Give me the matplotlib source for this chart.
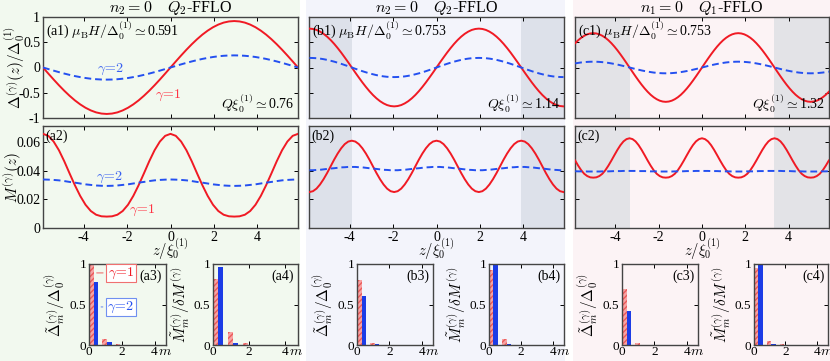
import numpy as np
import matplotlib
matplotlib.use("Agg")
import matplotlib.pyplot as plt
from matplotlib.patches import Rectangle
from matplotlib import transforms

plt.rcParams['font.family'] = ['Liberation Serif', 'DejaVu Serif']
plt.rcParams['mathtext.fontset'] = 'cm'
plt.rcParams['axes.unicode_minus'] = False
plt.rcParams['font.size'] = 10

# ---- data ----
# column (a): n2=0, Q2-FFLO, muB H = 0.591
z_a = np.linspace(-5.87, 5.87, 49)
delta_a_red = [0, -.120, -.238, -.352, -.460, -.560, -.651, -.730, -.797, -.850, -.889, -.912, -.920,
               -.912, -.889, -.850, -.797, -.730, -.651, -.560, -.460, -.352, -.238, -.120, 0,
               .120, .238, .352, .460, .560, .651, .730, .797, .850, .889, .912, .920,
               .912, .889, .850, .797, .730, .651, .560, .460, .352, .238, .120, 0]
delta_a_blue = [0, -.031, -.062, -.092, -.120, -.146, -.170, -.190, -.208, -.222, -.232, -.238, -.240,
                -.238, -.232, -.222, -.208, -.190, -.170, -.146, -.120, -.092, -.062, -.031, 0,
                .031, .062, .092, .120, .146, .170, .190, .208, .222, .232, .238, .240,
                .238, .232, .222, .208, .190, .170, .146, .120, .092, .062, .031, 0]
m_a_red = [.0660, .0646, .0606, .0545, .0468, .0383, .0300, .0225, .0163, .0119, .0093, .0082, .0080,
           .0082, .0093, .0119, .0163, .0225, .0300, .0383, .0468, .0545, .0606, .0646, .0660,
           .0646, .0606, .0545, .0468, .0383, .0300, .0225, .0163, .0119, .0093, .0082, .0080,
           .0082, .0093, .0119, .0163, .0225, .0300, .0383, .0468, .0545, .0606, .0646, .0660]
m_a_blue = [.0340, .0339, .0337, .0334, .0329, .0323, .0318, .0312, .0306, .0302, .0298, .0296, .0295,
            .0296, .0298, .0302, .0306, .0312, .0318, .0323, .0329, .0334, .0337, .0339, .0340,
            .0339, .0337, .0334, .0329, .0323, .0318, .0312, .0306, .0302, .0298, .0296, .0295,
            .0296, .0298, .0302, .0306, .0312, .0318, .0323, .0329, .0334, .0337, .0339, .0340]

# column (b): n2=0, Q2-FFLO, muB H = 0.753
z_b = np.linspace(-5.85, 5.85, 73)
delta_b_red = [.770, .763, .744, .711, .667, .611, .545, .469, .385, .295, .199, .101, 0,
               -.101, -.199, -.295, -.385, -.469, -.545, -.611, -.667, -.711, -.744, -.763, -.770,
               -.763, -.744, -.711, -.667, -.611, -.545, -.469, -.385, -.295, -.199, -.101, 0,
               .101, .199, .295, .385, .469, .545, .611, .667, .711, .744, .763, .770,
               .763, .744, .711, .667, .611, .545, .469, .385, .295, .199, .101, 0,
               -.101, -.199, -.295, -.385, -.469, -.545, -.611, -.667, -.711, -.744, -.763, -.770]
delta_b_blue = [.190, .188, .184, .176, .165, .151, .134, .116, .095, .073, .049, .025, 0,
                -.025, -.049, -.073, -.095, -.116, -.134, -.151, -.165, -.176, -.184, -.188, -.190,
                -.188, -.184, -.176, -.165, -.151, -.134, -.116, -.095, -.073, -.049, -.025, 0,
                .025, .049, .073, .095, .116, .134, .151, .165, .176, .184, .188, .190,
                .188, .184, .176, .165, .151, .134, .116, .095, .073, .049, .025, 0,
                -.025, -.049, -.073, -.095, -.116, -.134, -.151, -.165, -.176, -.184, -.188, -.190]
m_b_red = [.0252, .0258, .0276, .0305, .0342, .0385, .0432, .0479, .0522, .0559, .0588, .0606, .0612,
           .0606, .0588, .0559, .0522, .0479, .0432, .0385, .0342, .0305, .0276, .0258, .0252,
           .0258, .0276, .0305, .0342, .0385, .0432, .0479, .0522, .0559, .0588, .0606, .0612,
           .0606, .0588, .0559, .0522, .0479, .0432, .0385, .0342, .0305, .0276, .0258, .0252,
           .0258, .0276, .0305, .0342, .0385, .0432, .0479, .0522, .0559, .0588, .0606, .0612,
           .0606, .0588, .0559, .0522, .0479, .0432, .0385, .0342, .0305, .0276, .0258, .0252]
m_b_blue = [.0405, .0405, .0407, .0408, .0411, .0414, .0417, .0419, .0422, .0425, .0426, .0428, .0428,
            .0428, .0426, .0425, .0422, .0419, .0417, .0414, .0411, .0408, .0407, .0405, .0405,
            .0405, .0407, .0408, .0411, .0414, .0417, .0419, .0422, .0425, .0426, .0428, .0428,
            .0428, .0426, .0425, .0422, .0419, .0417, .0414, .0411, .0408, .0407, .0405, .0405,
            .0405, .0407, .0408, .0411, .0414, .0417, .0419, .0422, .0425, .0426, .0428, .0428,
            .0428, .0426, .0425, .0422, .0419, .0417, .0414, .0411, .0408, .0407, .0405, .0405]

# column (c): n1=0, Q1-FFLO, muB H = 0.753
z_c = np.linspace(-5.8625, 5.8625, 85)
delta_c_red = [.481, .540, .589, .628, .657, .674, .680,
               .674, .657, .628, .589, .540, .481, .414, .340, .260, .176, .089, 0,
               -.089, -.176, -.260, -.340, -.414, -.481, -.540, -.589, -.628, -.657, -.674, -.680,
               -.674, -.657, -.628, -.589, -.540, -.481, -.414, -.340, -.260, -.176, -.089, 0,
               .089, .176, .260, .340, .414, .481, .540, .589, .628, .657, .674, .680,
               .674, .657, .628, .589, .540, .481, .414, .340, .260, .176, .089, 0,
               -.089, -.176, -.260, -.340, -.414, -.481, -.540, -.589, -.628, -.657, -.674, -.680,
               -.674, -.657, -.628, -.589, -.540, -.481]
delta_c_blue = [.081, .091, .100, .106, .111, .114, .115,
                .114, .111, .106, .100, .091, .081, .070, .058, .044, .030, .015, 0,
                -.015, -.030, -.044, -.058, -.070, -.081, -.091, -.100, -.106, -.111, -.114, -.115,
                -.114, -.111, -.106, -.100, -.091, -.081, -.070, -.058, -.044, -.030, -.015, 0,
                .015, .030, .044, .058, .070, .081, .091, .100, .106, .111, .114, .115,
                .114, .111, .106, .100, .091, .081, .070, .058, .044, .030, .015, 0,
                -.015, -.030, -.044, -.058, -.070, -.081, -.091, -.100, -.106, -.111, -.114, -.115,
                -.114, -.111, -.106, -.100, -.091, -.081]
m_c_red = [.0473, .0437, .0405, .0380, .0364, .0355, .0353,
           .0355, .0364, .0380, .0405, .0437, .0473, .0511, .0548, .0581, .0607, .0623, .0629,
           .0623, .0607, .0581, .0548, .0511, .0473, .0437, .0405, .0380, .0364, .0355, .0353,
           .0355, .0364, .0380, .0405, .0437, .0473, .0511, .0548, .0581, .0607, .0623, .0629,
           .0623, .0607, .0581, .0548, .0511, .0473, .0437, .0405, .0380, .0364, .0355, .0353,
           .0355, .0364, .0380, .0405, .0437, .0473, .0511, .0548, .0581, .0607, .0623, .0629,
           .0623, .0607, .0581, .0548, .0511, .0473, .0437, .0405, .0380, .0364, .0355, .0353,
           .0355, .0364, .0380, .0405, .0437, .0473]
m_c_blue = [.0398, .0397, .0397, .0397, .0396, .0396, .0396,
            .0396, .0396, .0397, .0397, .0397, .0398, .0399, .0399, .0399, .0400, .0400, .0400,
            .0400, .0400, .0399, .0399, .0399, .0398, .0397, .0397, .0397, .0396, .0396, .0396,
            .0396, .0396, .0397, .0397, .0397, .0398, .0399, .0399, .0399, .0400, .0400, .0400,
            .0400, .0400, .0399, .0399, .0399, .0398, .0397, .0397, .0397, .0396, .0396, .0396,
            .0396, .0396, .0397, .0397, .0397, .0398, .0399, .0399, .0399, .0400, .0400, .0400,
            .0400, .0400, .0399, .0399, .0399, .0398, .0397, .0397, .0397, .0396, .0396, .0396,
            .0396, .0396, .0397, .0397, .0397, .0398]

# Fourier components m = 0..4
m_idx = np.arange(5)
a3_red = [1.00, 0.08, 0.012, 0.003, 0]
a3_blue = [0.78, 0.035, 0.005, 0, 0]
a4_red = [0.82, 0.16, 0.02, 0.006, 0]
a4_blue = [0.96, 0.03, 0.006, 0, 0]
b3_red = [0.80, 0.03, 0.003, 0, 0]
b3_blue = [0.61, 0.01, 0, 0, 0]
b4_red = [0.93, 0.07, 0.005, 0, 0]
b4_blue = [0.99, 0.012, 0.002, 0, 0]
c3_red = [0.69, 0.02, 0, 0, 0]
c3_blue = [0.42, 0.005, 0, 0, 0]
c4_red = [0.95, 0.05, 0.008, 0, 0]
c4_blue = [1.00, 0.01, 0, 0, 0]

RED = '#f01a24'
BLUE = '#2450f0'
W, H = 830, 361
fig = plt.figure(figsize=(8.3, 3.61), dpi=100)


def rect(x0, y0, x1, y1):
    return [x0 / W, 1 - y1 / H, (x1 - x0) / W, (y1 - y0) / H]


def style(ax):
    ax.set_facecolor('none')
    ax.tick_params(direction='in', top=True, right=True, length=3, width=0.7,
                   labelsize=10, pad=2)
    for s in ax.spines.values():
        s.set_color('#444444')
        s.set_linewidth(1.0)


# column backgrounds
for x0, x1, c in [(0, 300, '#f2f9ef'), (306, 565, '#f3f4fb'), (573, 830, '#fcf3f5')]:
    fig.add_artist(Rectangle((x0 / W, 0), (x1 - x0) / W, 1, transform=fig.transFigure,
                             color=c, zorder=-10, lw=0))

cols = [
    dict(tag='a', x0=43, x1=298, z=z_a, d=(delta_a_red, delta_a_blue), m=(m_a_red, m_a_blue),
         title=r'$n_2=0$    $Q_2$-FFLO', h='0.591', q='0.76', shade=None, sc=None,
         bars=[(89, 166, a3_red, a3_blue), (213, 298, a4_red, a4_blue)]),
    dict(tag='b', x0=309, x1=564, z=z_b, d=(delta_b_red, delta_b_blue), m=(m_b_red, m_b_blue),
         title=r'$n_2=0$    $Q_2$-FFLO', h='0.753', q='1.14', shade=3.9, sc='#dde1ea',
         bars=[(357, 433, b3_red, b3_blue), (489, 564, b4_red, b4_blue)]),
    dict(tag='c', x0=575, x1=829, z=z_c, d=(delta_c_red, delta_c_blue), m=(m_c_red, m_c_blue),
         title=r'$n_1=0$    $Q_1$-FFLO', h='0.753', q='1.32', shade=3.35, sc='#e3e3e7',
         bars=[(622, 698, c3_red, c3_blue), (754, 828, c4_red, c4_blue)]),
]

for col in cols:
    t = col['tag']
    ax1 = fig.add_axes(rect(col['x0'], 17, col['x1'], 118))
    ax2 = fig.add_axes(rect(col['x0'], 126, col['x1'], 228))
    for ax in (ax1, ax2):
        style(ax)
        ax.set_xlim(-5.87, 5.87)
        ax.set_xticks([-4, -2, 0, 2, 4])
        if col['shade']:
            ax.axvspan(-6, -col['shade'], color=col['sc'], lw=0, zorder=0)
            ax.axvspan(col['shade'], 6, color=col['sc'], lw=0, zorder=0)
    ax1.plot(col['z'], col['d'][0], color=RED, lw=1.4, zorder=3)
    ax1.plot(col['z'], col['d'][1], color=BLUE, lw=1.4, ls=(0, (3.5, 2)), zorder=3)
    ax2.plot(col['z'], col['m'][0], color=RED, lw=1.4, zorder=3)
    ax2.plot(col['z'], col['m'][1], color=BLUE, lw=1.4, ls=(0, (3.5, 2)), zorder=3)
    ax1.set_ylim(-1, 1)
    ax1.set_yticks([-1, -0.5, 0, 0.5, 1])
    ax2.set_ylim(0, 0.0715)
    ax2.set_yticks([0, 0.02, 0.04, 0.06])
    ax1.set_xticklabels([])
    ax2.set_xticklabels(['-4', '-2', '0', '2', '4'])
    if t == 'a':
        ax1.set_yticklabels(['-1', '-0.5', '0', '0.5', '1'])
        ax2.set_yticklabels(['0', '0.02', '0.04', '0.06'])
        ax1.set_ylabel(r'$\Delta^{(\gamma)}(z)/\Delta_0^{(1)}$', fontsize=11)
        ax1.yaxis.set_label_coords(-0.062, 0.5)
        ax2.set_ylabel(r'$M^{(\gamma)}(z)$', fontsize=11)
        ax2.yaxis.set_label_coords(-0.075, 0.5)
        ax1.text(-2.75, -0.09, r'$\gamma\!=\!2$', color='#3a62f0', fontsize=10, ha='center')
        ax1.text(-0.1, -0.6, r'$\gamma\!=\!1$', color='#ff3344', fontsize=10, ha='center')
        ax2.text(-2.8, 0.0335, r'$\gamma\!=\!2$', color='#3a62f0', fontsize=10, ha='center')
        ax2.text(-1.3, 0.0105, r'$\gamma\!=\!1$', color='#ff3344', fontsize=10, ha='center')
    else:
        ax1.set_yticklabels([])
        ax2.set_yticklabels([])
    ax1.set_title(col['title'], fontsize=11.5, pad=2)
    ax1.text(0.01, 0.97, '(%s1) $\\mu_{\\rm B}H/\\Delta_0^{(1)}\\simeq$0.%s' % (t, col['h'][2:]),
             transform=ax1.transAxes, ha='left', va='top', fontsize=10, zorder=5)
    ax1.text(0.985, 0.03, r'$Q\xi_0^{(1)}\simeq$' + col['q'], transform=ax1.transAxes,
             ha='right', va='bottom', fontsize=10, zorder=5)
    ax2.text(0.01, 0.97, '(%s2)' % t, transform=ax2.transAxes, ha='left', va='top',
             fontsize=10, zorder=5)
    xc = (col['x0'] + col['x1']) / 2
    fig.text(xc / W, 1 - 256 / H, r'$z/\xi_0^{(1)}$', ha='center', va='baseline', fontsize=10.5)

    # Fourier component bar panels
    for j, (bx0, bx1, red, blue) in enumerate(col['bars']):
        axb = fig.add_axes(rect(bx0, 264, bx1, 345))
        style(axb)
        axb.tick_params(axis='x', pad=1, labelsize=9.5)
        axb.tick_params(axis='y', labelsize=9.5)
        xs = m_idx * 0.82
        axb.bar(xs + 0.14, red, width=0.28, color='#f7a3a3', edgecolor='#ec5a5a',
                hatch='//////', lw=0, zorder=2)
        axb.bar(xs + 0.42, blue, width=0.28, color='#1c3ce6', lw=0, zorder=2)
        axb.set_xlim(0, 4.7)
        axb.set_ylim(0, 1)
        axb.set_xticks([0, 2, 4])
        axb.set_xticklabels(['0', '2', '4'])
        axb.set_yticks([0, 0.5, 1])
        axb.set_yticklabels(['0', '0.5', '1'])
        mtrans = transforms.offset_copy(axb.get_xaxis_transform(), fig=fig, y=-10, units='dots')
        axb.text(4.22, 0, r'$m$', transform=mtrans, ha='left', va='baseline', fontsize=10)
        axb.text(0.95, 0.93, '(%s%d)' % (t, j + 3), transform=axb.transAxes,
                 ha='right', va='top', fontsize=10)
        if j == 0:
            axb.set_ylabel(r'$\tilde{\Delta}_m^{(\gamma)}/\Delta_0^{(\gamma)}$', fontsize=11,
                           labelpad=2)
        else:
            axb.set_ylabel(r'$\tilde{M}_m^{(\gamma)}/\delta M^{(\gamma)}$', fontsize=11,
                           labelpad=1)
        if t == 'a' and j == 0:
            axb.annotate(r'$\gamma\!=\!1$', xy=(0.3, 0.89), xytext=(1.95, 0.89),
                         ha='center', va='center', color=RED, fontsize=10,
                         bbox=dict(boxstyle='square,pad=0.1', fc='white', ec='#f07070', lw=0.8),
                         arrowprops=dict(arrowstyle='-', color='#f07070', lw=0.8))
            axb.annotate(r'$\gamma\!=\!2$', xy=(0.57, 0.47), xytext=(1.95, 0.47),
                         ha='center', va='center', color=BLUE, fontsize=10,
                         bbox=dict(boxstyle='square,pad=0.1', fc='white', ec='#7090f0', lw=0.8),
                         arrowprops=dict(arrowstyle='-', color='#7090f0', lw=0.8))

fig.savefig('out.png', dpi=100)
